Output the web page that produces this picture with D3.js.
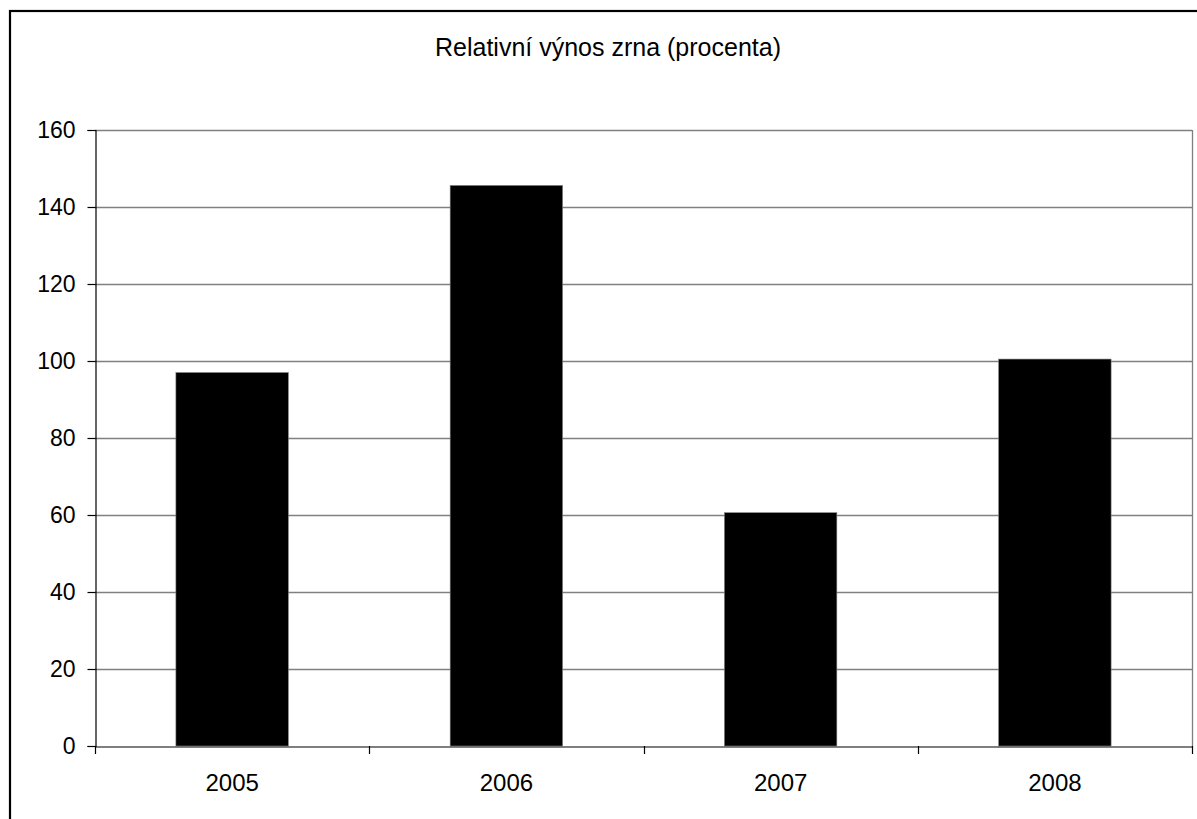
<!DOCTYPE html>
<html><head><meta charset="utf-8">
<script src="https://cdn.jsdelivr.net/npm/d3@7"></script>
<style>body{margin:0;background:#fff}svg{display:block}</style>
</head><body>
<svg id="c" width="1197" height="819"></svg>
<script>
const title = "Relativní výnos zrna (procenta)";
const categories = ["2005", "2006", "2007", "2008"];
const values = [97, 145.6, 60.6, 100.5];
const yTicks = [0, 20, 40, 60, 80, 100, 120, 140, 160];

const svg = d3.select("#c");
const font = "Liberation Sans, Arial, sans-serif";
const m = {left: 95, right: 1192, top: 130, bottom: 746};

svg.append("rect").attr("x", 10).attr("y", 11).attr("width", 1300).attr("height", 900)
  .attr("fill", "#fff").attr("stroke", "#000").attr("stroke-width", 2.2);

const x = d3.scaleBand().domain(categories).range([m.left, m.right]).paddingInner(0.59).paddingOuter(0.295);
const xb = d3.scaleBand().domain(categories).range([m.left, m.right]);
const y = d3.scaleLinear().domain([0, 160]).range([m.bottom, m.top]);

// gridlines
svg.append("g").selectAll("line").data(yTicks.filter(d => d > 0)).join("line")
  .attr("x1", m.left).attr("x2", m.right)
  .attr("y1", d => Math.round(y(d)) + 0.5).attr("y2", d => Math.round(y(d)) + 0.5)
  .attr("stroke", "#808080").attr("stroke-width", 1.3);
// right plot border
svg.append("line").attr("x1", m.right + 0.5).attr("x2", m.right + 0.5)
  .attr("y1", m.top).attr("y2", m.bottom).attr("stroke", "#808080").attr("stroke-width", 1.3);

// bars
svg.append("g").selectAll("rect").data(values).join("rect")
  .attr("x", (d, i) => x(categories[i]))
  .attr("width", x.bandwidth())
  .attr("y", d => y(d))
  .attr("height", d => y(0) - y(d))
  .attr("fill", "#000").attr("stroke", "#808080").attr("stroke-width", 0.6);

// y axis
const ya = svg.append("g").attr("transform", `translate(${m.left + 0.5},0)`)
  .call(d3.axisLeft(y).tickValues(yTicks).tickSize(8).tickPadding(12).tickFormat(d3.format("d")));
ya.attr("font-size", 23).attr("font-family", font);
ya.select(".domain").attr("stroke", "#000").attr("stroke-width", 1.2);
ya.selectAll(".tick line").attr("stroke", "#000").attr("stroke-width", 1.2);
ya.selectAll("text").attr("font-family", font).attr("font-size", 23).attr("fill", "#000");

// x axis
const xa = svg.append("g").attr("transform", `translate(0,${m.bottom + 0.5})`)
  .call(d3.axisBottom(xb).tickSize(0).tickPadding(27));
xa.attr("font-size", 24).attr("font-family", font);
xa.select(".domain").attr("stroke", "#000").attr("stroke-width", 1.2);
xa.selectAll("text").attr("font-family", font).attr("font-size", 24).attr("fill", "#000");
// category boundary ticks
const bounds = categories.map(c => xb(c)).concat([m.right]);
svg.append("g").selectAll("line").data(bounds).join("line")
  .attr("x1", d => Math.round(d) + 0.5).attr("x2", d => Math.round(d) + 0.5)
  .attr("y1", m.bottom).attr("y2", m.bottom + 8)
  .attr("stroke", "#000").attr("stroke-width", 1.2);

svg.append("text").attr("x", 608).attr("y", 56).attr("text-anchor", "middle")
  .attr("font-family", font).attr("font-size", 25).attr("fill", "#000").text(title);
</script>
</body></html>
